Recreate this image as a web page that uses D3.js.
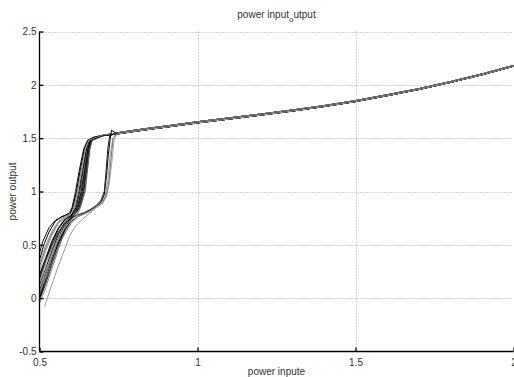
<!DOCTYPE html>
<html><head><meta charset="utf-8">
<script src="https://cdn.jsdelivr.net/npm/d3@7"></script>
<style>html,body{margin:0;padding:0;background:#fff;}svg{display:block;}</style>
</head><body>
<svg id="chart" width="514" height="377"></svg>
<script>
// ---- data ----
const xTicks = [0.5, 1, 1.5, 2];
const yTicks = [-0.5, 0, 0.5, 1, 1.5, 2, 2.5];
const xTickLabels = ["0.5", "1", "1.5", "2"];
const yTickLabels = ["-0.5", "0", "0.5", "1", "1.5", "2", "2.5"];

// shared upper branch (x >= 0.75)
const tailX  = [0.75, 0.8, 0.85, 0.9, 1.0, 1.1, 1.2, 1.3, 1.4, 1.5, 1.6, 1.7, 1.8, 1.9, 2.0];
const tailY1 = [1.552, 1.574, 1.595, 1.614, 1.654, 1.690, 1.726, 1.764, 1.805, 1.852, 1.907, 1.964, 2.030, 2.102, 2.182];
const tailY2 = [1.541, 1.563, 1.584, 1.603, 1.643, 1.679, 1.716, 1.754, 1.796, 1.843, 1.898, 1.956, 2.022, 2.094, 2.174];

// early-switching curves (low-power part)
const early1  = [[0.5,0.42],[0.51,0.53],[0.53,0.66],[0.55,0.73],[0.58,0.775],[0.595,0.80],[0.603,0.85],[0.614,1.0],[0.626,1.2],[0.640,1.40],[0.652,1.48],[0.67,1.508],[0.70,1.528]];
const early2  = [[0.5,0.30],[0.52,0.47],[0.54,0.61],[0.56,0.71],[0.58,0.76],[0.60,0.79],[0.608,0.85],[0.619,1.0],[0.631,1.2],[0.644,1.40],[0.655,1.48],[0.68,1.512],[0.70,1.525]];
const early3  = [[0.5,0.22],[0.52,0.38],[0.54,0.54],[0.56,0.66],[0.58,0.74],[0.60,0.78],[0.613,0.85],[0.624,1.0],[0.636,1.2],[0.648,1.40],[0.658,1.48],[0.68,1.51],[0.70,1.522]];
const early4  = [[0.5,0.15],[0.52,0.32],[0.54,0.48],[0.56,0.62],[0.58,0.72],[0.60,0.77],[0.618,0.85],[0.630,1.0],[0.641,1.2],[0.651,1.40],[0.660,1.48],[0.70,1.527]];
const early5  = [[0.5,0.08],[0.52,0.25],[0.54,0.42],[0.56,0.57],[0.58,0.69],[0.60,0.76],[0.622,0.85],[0.635,1.0],[0.645,1.2],[0.654,1.40],[0.662,1.48],[0.70,1.523]];
const early6  = [[0.5,0.02],[0.52,0.18],[0.54,0.36],[0.56,0.52],[0.58,0.66],[0.60,0.75],[0.615,0.80],[0.626,0.85],[0.640,1.0],[0.649,1.2],[0.657,1.40],[0.665,1.48],[0.70,1.526]];
const early7  = [[0.5,-0.05],[0.52,0.10],[0.54,0.28],[0.56,0.46],[0.58,0.62],[0.60,0.73],[0.62,0.79],[0.630,0.85],[0.645,1.0],[0.652,1.2],[0.660,1.40],[0.667,1.48],[0.70,1.524]];
const early8  = [[0.5,0.36],[0.515,0.51],[0.53,0.62],[0.55,0.72],[0.57,0.765],[0.597,0.79],[0.605,0.85],[0.617,1.0],[0.629,1.2],[0.642,1.40],[0.654,1.48],[0.67,1.505],[0.70,1.526]];
const early9  = [[0.5,0.26],[0.52,0.44],[0.54,0.59],[0.56,0.70],[0.58,0.75],[0.60,0.785],[0.611,0.85],[0.622,1.0],[0.634,1.2],[0.646,1.40],[0.657,1.48],[0.70,1.525]];
const early10 = [[0.5,0.12],[0.52,0.28],[0.54,0.45],[0.56,0.60],[0.58,0.71],[0.60,0.765],[0.616,0.85],[0.627,1.0],[0.638,1.2],[0.649,1.40],[0.659,1.48],[0.70,1.524]];
const early11 = [[0.5,0.05],[0.52,0.22],[0.545,0.43],[0.565,0.58],[0.585,0.70],[0.605,0.765],[0.62,0.81],[0.628,0.85],[0.643,1.0],[0.651,1.2],[0.659,1.40],[0.666,1.48],[0.70,1.522]];
const early12 = [[0.5,0.18],[0.52,0.36],[0.54,0.52],[0.56,0.65],[0.58,0.735],[0.60,0.775],[0.620,0.85],[0.632,1.0],[0.643,1.2],[0.653,1.40],[0.661,1.48],[0.70,1.526]];
const early13 = [[0.5,0.33],[0.52,0.50],[0.54,0.63],[0.56,0.72],[0.58,0.765],[0.60,0.79],[0.609,0.85],[0.620,1.0],[0.632,1.2],[0.645,1.40],[0.656,1.48],[0.70,1.527]];
const early14 = [[0.5,-0.02],[0.52,0.14],[0.54,0.32],[0.56,0.49],[0.58,0.64],[0.60,0.74],[0.615,0.80],[0.624,0.85],[0.638,1.0],[0.647,1.2],[0.656,1.40],[0.664,1.48],[0.70,1.522]];

// late-switching curves (low-power part)
const late1 = [[0.516,-0.08],[0.537,0.11],[0.563,0.33],[0.58,0.46],[0.595,0.58],[0.61,0.66],[0.622,0.70],[0.64,0.75],[0.66,0.80],[0.68,0.85],[0.695,0.89],[0.708,0.96],[0.716,1.1],[0.724,1.35],[0.732,1.5],[0.745,1.545]];
const late2 = [[0.5,0.0],[0.52,0.17],[0.54,0.35],[0.56,0.52],[0.58,0.64],[0.60,0.72],[0.62,0.765],[0.645,0.80],[0.665,0.83],[0.68,0.86],[0.695,0.905],[0.705,0.97],[0.712,1.15],[0.718,1.35],[0.724,1.5],[0.728,1.575],[0.74,1.55]];
const late3 = [[0.5,0.10],[0.52,0.26],[0.54,0.42],[0.56,0.56],[0.58,0.66],[0.60,0.73],[0.62,0.765],[0.64,0.785],[0.66,0.81],[0.68,0.845],[0.70,0.89],[0.712,0.95],[0.722,1.1],[0.73,1.3],[0.736,1.48],[0.745,1.54]];
const late4 = [[0.5,0.20],[0.52,0.36],[0.54,0.50],[0.56,0.62],[0.58,0.70],[0.60,0.75],[0.62,0.78],[0.64,0.80],[0.66,0.83],[0.68,0.87],[0.695,0.92],[0.705,1.0],[0.711,1.2],[0.716,1.4],[0.722,1.52],[0.74,1.545]];
const late5 = [[0.5,0.05],[0.525,0.22],[0.55,0.42],[0.575,0.58],[0.60,0.70],[0.62,0.76],[0.64,0.79],[0.66,0.82],[0.68,0.86],[0.70,0.90],[0.712,0.97],[0.72,1.1],[0.727,1.32],[0.733,1.5],[0.748,1.55]];

const curveHeads  = [early1, early2, early3, early4, early5, early6, early7, early8, early9, early10, early11, early12, early13, early14, late1, late2, late3, late4, late5];
const curveTails  = [1, 2, 1, 2, 1, 2, 1, 2, 1, 2, 1, 2, 1, 2, 1, 2, 2, 1, 1];
const curveColors = ["#111","#666","#000","#999","#222","#000","#888","#000","#aaa","#111","#555","#000","#999","#222","#999","#000","#aaa","#222","#777"];

// ---- layout ----
const svg = d3.select("#chart");
const L = 39.5, R = 513.5, T = 31.5, B = 351.5;
const x = d3.scaleLinear().domain([0.5, 2]).range([L, R]);
const y = d3.scaleLinear().domain([-0.5, 2.5]).range([B, T]);
const font = "Arial, 'Liberation Sans', Helvetica, sans-serif";
const textCol = "#333";

// grid
svg.append("g").selectAll("line").data(xTicks.slice(1)).join("line")
  .attr("x1", d => Math.round(x(d)) + 0.5).attr("x2", d => Math.round(x(d)) + 0.5)
  .attr("y1", T).attr("y2", B)
  .attr("stroke", "#aaa").attr("stroke-width", 1).attr("stroke-dasharray", "1,2");
svg.append("g").selectAll("line").data(yTicks.slice(1)).join("line")
  .attr("x1", L).attr("x2", R)
  .attr("y1", d => Math.round(y(d)) + 0.5).attr("y2", d => Math.round(y(d)) + 0.5)
  .attr("stroke", "#aaa").attr("stroke-width", 1).attr("stroke-dasharray", "1,2");

// clip
svg.append("defs").append("clipPath").attr("id", "clip")
  .append("rect").attr("x", L).attr("y", T).attr("width", R - L).attr("height", B - T);

const line = d3.line().x(d => x(d[0])).y(d => y(d[1]));
const tailPts = k => tailX.map((v, i) => [v, k === 1 ? tailY1[i] : tailY2[i]]);

const gLines = svg.append("g").attr("clip-path", "url(#clip)");
curveHeads.forEach((h, i) => {
  const pts = h.concat(tailPts(curveTails[i]));
  gLines.append("path").attr("d", line(pts))
    .attr("fill", "none").attr("stroke", curveColors[i]).attr("stroke-width", 1)
    .attr("stroke-linejoin", "round");
});

// axes (MATLAB style: inward ticks, no box)
const xAxis = d3.axisBottom(x).tickValues(xTicks).tickSize(-4).tickPadding(7)
  .tickFormat((d, i) => xTickLabels[i]);
const yAxis = d3.axisLeft(y).tickValues(yTicks).tickSize(-4).tickPadding(3)
  .tickFormat((d, i) => yTickLabels[i]);

const gx = svg.append("g").attr("transform", `translate(0,${B})`).call(xAxis);
const gy = svg.append("g").attr("transform", `translate(${L},0)`).call(yAxis);
[gx, gy].forEach(g => {
  g.select(".domain").attr("stroke", "#000").attr("stroke-width", 1.3);
  g.selectAll(".tick line").attr("stroke", "#000").attr("stroke-width", 1.3);
  g.selectAll(".tick text").attr("fill", textCol).attr("font-family", font).attr("font-size", 10);
});
gx.select(".domain").attr("d", `M${L},0H${R}`);
gy.select(".domain").attr("d", `M0,${B}V${T}`);

// title with subscript
const title = svg.append("text").attr("x", (L + R) / 2).attr("y", 18)
  .attr("text-anchor", "middle").attr("font-family", font).attr("font-size", 10).attr("fill", textCol);
title.append("tspan").text("power input");
title.append("tspan").attr("dy", 4).attr("font-size", 8).text("o");
title.append("tspan").attr("dy", -4).text("utput");

// axis labels
svg.append("text").attr("x", (L + R) / 2).attr("y", 375)
  .attr("text-anchor", "middle").attr("font-family", font).attr("font-size", 10).attr("fill", textCol)
  .text("power inpute");
svg.append("text").attr("transform", `translate(16,${(T + B) / 2}) rotate(-90)`)
  .attr("text-anchor", "middle").attr("font-family", font).attr("font-size", 10).attr("fill", textCol)
  .text("power output");
</script>
</body></html>
